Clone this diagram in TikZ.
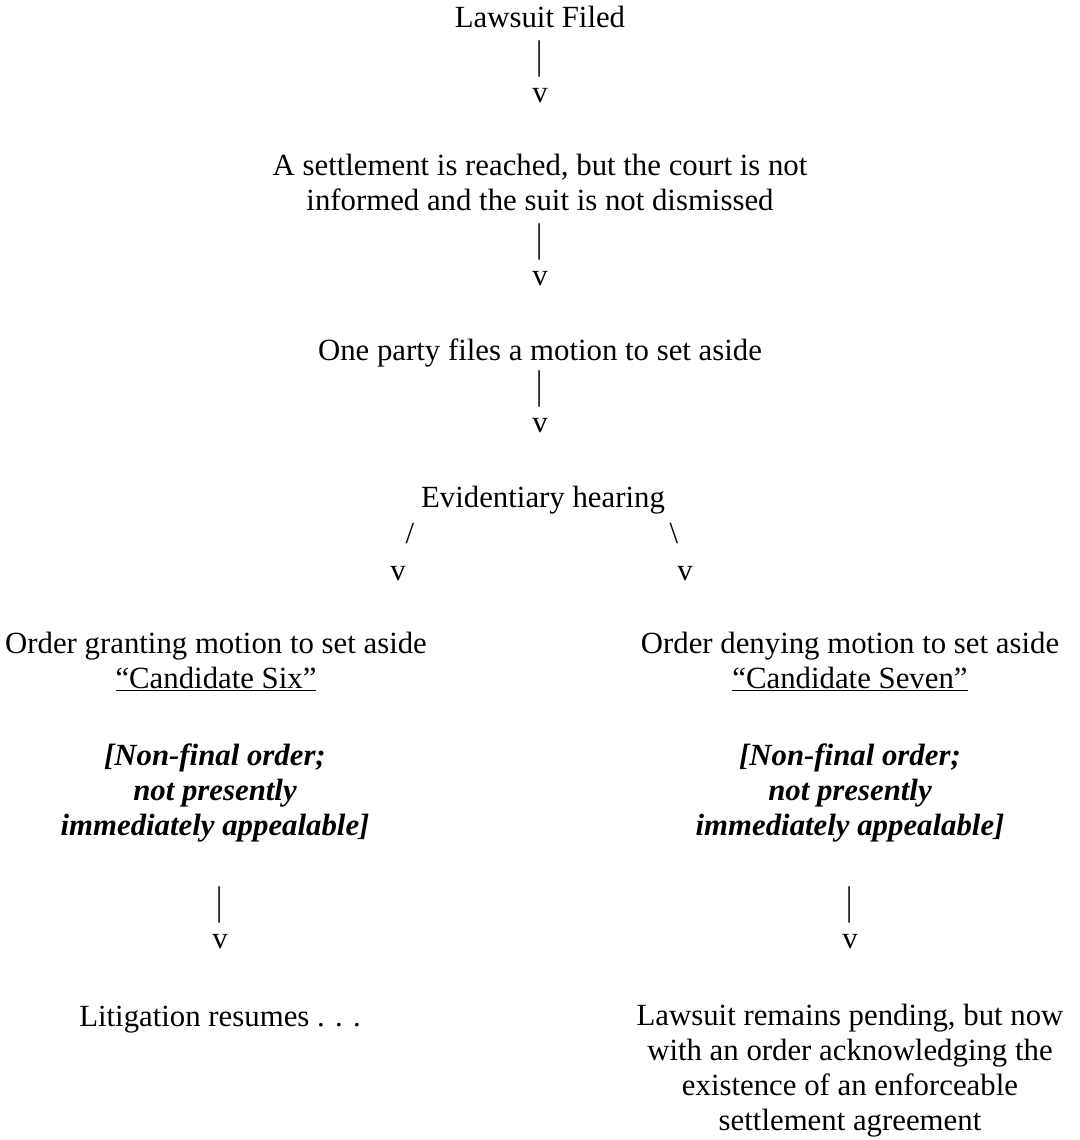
\documentclass[tikz,border=0pt]{standalone}
\usepackage{graphicx}
\usepackage{fontspec}
\setmainfont{Liberation Serif}
\newcommand{\tallbar}{\raisebox{-3pt}{\scalebox{1}[1.3]{|}}}
\begin{document}
\begin{tikzpicture}[x=1pt,y=1pt,
  txt/.style={font=\fontsize{30.8}{35}\selectfont, inner sep=0pt, outer sep=0pt, align=center, anchor=north},
  note/.style={txt, font=\fontsize{30.8}{35}\selectfont\bfseries\itshape},
  glyph/.style={txt}]
\useasboundingbox (0,0) rectangle (1079,-1140);
\fill[white] (0,0) rectangle (1079,-1140);
% main column
\node[txt] (filed) at (540,-3.5) {\strut Lawsuit Filed};
\node[glyph] (b1) at (540,-40.5) {\strut\tallbar};
\node[glyph] (v1) at (540,-77.5) {\strut v};
\node[txt] (settle) at (540,-150.5) {\strut A settlement is reached, but the court is not\\informed and the suit is not dismissed};
\node[glyph] (b2) at (540,-223.5) {\strut\tallbar};
\node[glyph] (v2) at (540,-260.5) {\strut v};
\node[txt] (motion) at (540,-335.5) {\strut One party files a motion to set aside};
\node[glyph] (b3) at (540,-370.5) {\strut\tallbar};
\node[glyph] (v3) at (540,-407.5) {\strut v};
\node[txt] (hearing) at (543,-482.5) {\strut Evidentiary hearing};
\node[glyph] (sl) at (410,-518.5) {\strut /};
\node[glyph] (sr) at (674,-518.5) {\strut \textbackslash};
\node[glyph] (vl) at (398,-555.5) {\strut v};
\node[glyph] (vr) at (685,-555.5) {\strut v};
% left branch
\node[txt] (grant) at (216,-628.5) {\strut Order granting motion to set aside\\\underline{“Candidate Six”}};
\node[note] (nfl) at (215,-740.5) {\strut [Non-final order;\\not presently\\immediately appealable]};
\node[glyph] (b4) at (220,-886.5) {\strut\tallbar};
\node[glyph] (v4) at (220,-923.5) {\strut v};
\node[txt] (resume) at (220,-1001.5) {\strut Litigation resumes . . .};
% right branch
\node[txt] (deny) at (850,-628.5) {\strut Order denying motion to set aside\\\underline{“Candidate Seven”}};
\node[note] (nfr) at (850,-740.5) {\strut [Non-final order;\\not presently\\immediately appealable]};
\node[glyph] (b5) at (850,-886.5) {\strut\tallbar};
\node[glyph] (v5) at (850,-923.5) {\strut v};
\node[txt] (pending) at (850,-1000.5) {\strut Lawsuit remains pending, but now\\with an order acknowledging the\\existence of an enforceable\\settlement agreement};
\end{tikzpicture}
\end{document}
